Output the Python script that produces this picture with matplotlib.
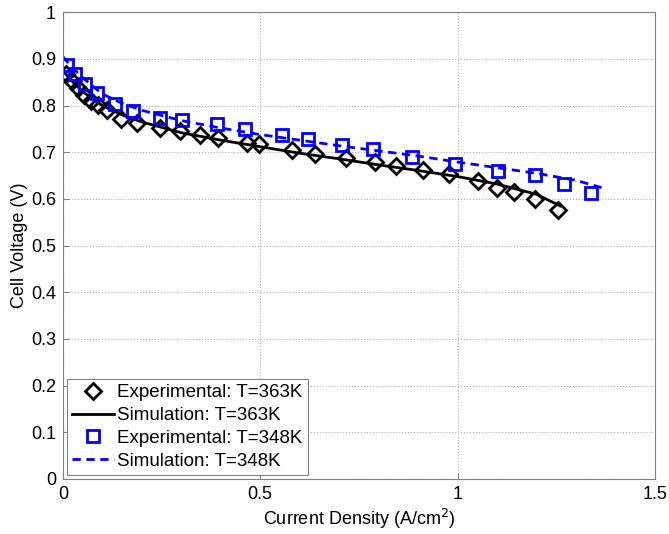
import numpy as np
import matplotlib
matplotlib.use("Agg")
import matplotlib.pyplot as plt

plt.rcParams['font.family'] = ['Liberation Sans', 'DejaVu Sans']

# experimental data, T=363K
exp363_i = [0.008, 0.023, 0.038, 0.053, 0.071, 0.089, 0.111, 0.147, 0.187, 0.246,
            0.296, 0.347, 0.393, 0.466, 0.497, 0.580, 0.638, 0.717, 0.790, 0.843,
            0.912, 0.978, 1.051, 1.100, 1.143, 1.196, 1.254]
exp363_v = [0.868, 0.853, 0.838, 0.823, 0.810, 0.802, 0.791, 0.772, 0.762, 0.753,
            0.745, 0.738, 0.730, 0.719, 0.717, 0.704, 0.696, 0.687, 0.679, 0.670,
            0.662, 0.653, 0.638, 0.623, 0.615, 0.600, 0.577]

# simulation, T=363K
sim363_i = [0.0, 0.02, 0.05, 0.10, 0.15, 0.20, 0.30, 0.40, 0.50, 0.60, 0.70,
            0.80, 0.90, 1.00, 1.10, 1.20, 1.26]
sim363_v = [0.875, 0.855, 0.830, 0.800, 0.780, 0.765, 0.742, 0.726, 0.712, 0.698,
            0.686, 0.673, 0.661, 0.648, 0.632, 0.610, 0.585]

# experimental data, T=348K
exp348_i = [0.010, 0.030, 0.056, 0.086, 0.132, 0.177, 0.246, 0.301, 0.390, 0.461,
            0.555, 0.621, 0.707, 0.786, 0.884, 0.993, 1.102, 1.196, 1.269, 1.338]
exp348_v = [0.887, 0.868, 0.847, 0.826, 0.804, 0.789, 0.774, 0.770, 0.760, 0.749,
            0.736, 0.728, 0.715, 0.706, 0.689, 0.674, 0.660, 0.651, 0.632, 0.613]

# simulation, T=348K
sim348_i = [0.0, 0.02, 0.05, 0.10, 0.15, 0.20, 0.30, 0.40, 0.50, 0.60, 0.70,
            0.80, 0.90, 1.00, 1.10, 1.20, 1.30, 1.378]
sim348_v = [0.905, 0.885, 0.860, 0.825, 0.805, 0.790, 0.768, 0.752, 0.738, 0.726,
            0.714, 0.703, 0.692, 0.679, 0.667, 0.655, 0.640, 0.621]

fig = plt.figure(figsize=(6.69, 5.34), dpi=100)
ax = fig.add_axes([0.094, 0.103, 0.885, 0.874])

ax.plot(exp363_i, exp363_v, 'D', mfc='none', mec='black', mew=2, ms=8,
        label='Experimental: T=363K')
ax.plot(sim363_i, sim363_v, '-', color='black', lw=2, label='Simulation: T=363K')
ax.plot(exp348_i, exp348_v, 's', mfc='none', mec='blue', mew=2, ms=9,
        label='Experimental: T=348K')
ax.plot(sim348_i, sim348_v, '--', color='blue', lw=2, dashes=(3, 2),
        label='Simulation: T=348K')

ax.set_xlim(0, 1.5)
ax.set_ylim(0, 1)
ax.set_xticks([0, 0.5, 1, 1.5])
ax.set_xticklabels(['0', '0.5', '1', '1.5'])
ax.set_yticks(np.arange(0, 1.01, 0.1))
ax.set_yticklabels(['0', '0.1', '0.2', '0.3', '0.4', '0.5', '0.6', '0.7', '0.8', '0.9', '1'])
ax.tick_params(direction='in', labelsize=13, length=4, color='#808080', pad=5)
ax.grid(True, linestyle=':', color='#b0b0b0', linewidth=0.8)
for s in ax.spines.values():
    s.set_color('#808080')

ax.set_xlabel('Current Density (A/cm$^2$)', fontsize=13, labelpad=3)
ax.set_ylabel('Cell Voltage (V)', fontsize=13, labelpad=2)

leg = ax.legend(loc='lower left', fontsize=13.5, fancybox=False, framealpha=1,
                edgecolor='#808080', borderaxespad=0.2, handlelength=2.2,
                handletextpad=0.2, borderpad=0.3, labelspacing=0.3)
leg.get_frame().set_linewidth(0.8)

fig.savefig('out.png', dpi=100)
